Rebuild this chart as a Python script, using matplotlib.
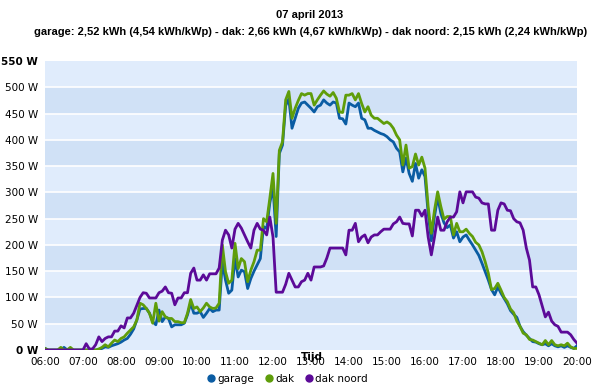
import matplotlib
matplotlib.use("Agg")
import matplotlib.pyplot as plt
from matplotlib.lines import Line2D

# 5-minute readings from 06:00 to 20:00 (one row per hour)
garage = [
    3, 0, 0, 0, 0, 0, 5, 0, 0, 0, 0, 0,
    0, 0, 0, 0, 0, 0, 3, 6, 5, 8, 10, 12,
    15, 19, 22, 30, 40, 57, 78, 79, 79, 70, 54, 48,
    76, 54, 63, 60, 44, 48, 48, 48, 51, 67, 89, 70,
    70, 73, 62, 70, 79, 73, 76, 76, 168, 133, 108, 114,
    174, 139, 152, 149, 117, 136, 150, 162, 174, 235, 231, 280,
    311, 216, 374, 390, 465, 478, 422, 441, 460, 470, 472, 466,
    460, 453, 463, 466, 476, 470, 466, 472, 470, 441, 440, 430,
    470, 466, 463, 470, 441, 438, 422, 422, 418, 415, 412, 410,
    406, 400, 396, 384, 377, 339, 365, 336, 321, 355, 327, 343,
    330, 260, 208, 254, 291, 260, 242, 233, 238, 213, 225, 206,
    215, 219, 209, 200, 190, 180, 165, 149, 133, 115, 105, 120,
    108, 98, 88, 75, 68, 62, 45, 35, 28, 22, 16, 15,
    12, 10, 12, 8, 12, 8, 6, 8, 5, 8, 5, 3,
    8,
]
dak = [
    3, 0, 0, 0, 0, 5, 0, 0, 5, 0, 0, 0,
    0, 0, 0, 0, 0, 2, 5, 10, 6, 13, 19, 16,
    22, 25, 32, 38, 44, 57, 89, 86, 79, 70, 51, 89,
    55, 73, 63, 60, 60, 54, 54, 52, 52, 70, 96, 79,
    82, 73, 80, 89, 82, 79, 80, 89, 200, 149, 127, 133,
    203, 155, 174, 168, 130, 152, 168, 190, 190, 250, 244, 289,
    336, 241, 380, 396, 476, 492, 441, 460, 475, 488, 485, 488,
    488, 466, 476, 485, 493, 487, 483, 490, 479, 453, 452, 485,
    485, 488, 476, 488, 469, 453, 463, 447, 441, 441, 436, 431,
    434, 430, 422, 409, 400, 352, 390, 346, 349, 373, 352, 367,
    346, 273, 222, 266, 301, 273, 249, 254, 254, 219, 241, 225,
    225, 230, 222, 216, 205, 200, 187, 168, 146, 115, 117, 127,
    114, 100, 92, 78, 71, 55, 45, 32, 29, 20, 19, 16,
    13, 10, 18, 10, 18, 10, 8, 10, 8, 13, 6, 3,
    3,
]
dak_noord = [
    0, 0, 0, 0, 0, 0, 0, 0, 0, 0, 0, 0,
    0, 12, 2, 2, 10, 25, 16, 22, 25, 25, 36, 36,
    46, 42, 61, 61, 70, 85, 100, 109, 108, 99, 99, 99,
    109, 112, 120, 109, 108, 86, 99, 99, 109, 109, 146, 156,
    133, 133, 143, 133, 145, 145, 145, 156, 209, 228, 219, 194,
    230, 241, 232, 219, 206, 194, 228, 241, 230, 228, 219, 253,
    215, 110, 110, 110, 125, 146, 133, 120, 120, 130, 133, 146,
    133, 158, 158, 158, 160, 175, 194, 194, 194, 194, 194, 181,
    228, 228, 241, 206, 215, 219, 204, 215, 219, 219, 225, 230,
    230, 230, 240, 244, 253, 241, 240, 240, 217, 266, 266, 255,
    266, 215, 181, 215, 253, 228, 228, 244, 253, 253, 263, 301,
    280, 301, 301, 301, 291, 289, 280, 278, 278, 228, 228, 266,
    280, 278, 266, 265, 250, 244, 242, 228, 194, 171, 120, 120,
    105, 84, 63, 72, 55, 48, 45, 34, 34, 34, 29, 20,
    13,
]
hours = [6 + i / 12 for i in range(len(garage))]
tick_hours = list(range(6, 21))
tick_labels = ["%02d:00" % h for h in tick_hours]
y_ticks = list(range(0, 551, 50))

title = "07 april 2013"
subtitle = ("garage: 2,52 kWh (4,54 kWh/kWp) - dak: 2,66 kWh (4,67 kWh/kWp) - "
            "dak noord: 2,15 kWh (2,24 kWh/kWp)")
series_names = ["garage", "dak", "dak noord"]

c_garage = "#0a5ca3"
c_dak = "#5f9d0a"
c_noord = "#5c0a98"

fig = plt.figure(figsize=(6.03, 3.87), dpi=100)
ax = fig.add_axes([45 / 603, 1 - 350 / 387, 532 / 603, 289 / 387])

# alternating background bands
ax.set_facecolor("#e0ecfc")
for lo in range(50, 550, 100):
    ax.axhspan(lo, lo + 50, color="#d0e1f6", lw=0, zorder=0)
for y in y_ticks[1:-1]:
    ax.axhline(y, color="white", lw=1.2, zorder=1)

ax.plot(hours, garage, color=c_garage, lw=2, zorder=3)
ax.plot(hours, dak, color=c_dak, lw=2, zorder=4)
ax.plot(hours, dak_noord, color=c_noord, lw=2, zorder=5)

ax.set_xlim(6, 20)
ax.set_ylim(0, 550)
for s in ax.spines.values():
    s.set_visible(False)
ax.set_xticks(tick_hours)
ax.set_xticklabels(tick_labels)
ax.set_yticks(y_ticks)
ax.set_yticklabels(["%d W" % v for v in y_ticks])
ax.tick_params(length=0, labelsize=7.5, pad=5)
for lab in ax.get_yticklabels():
    if lab.get_text() in ("0 W", "550 W"):
        lab.set_fontweight("bold")

fig.text(310 / 603, 1 - 15 / 387, title, ha="center", va="center",
         family="Liberation Sans", weight="bold", fontsize=8)
fig.text(311 / 603, 1 - 32 / 387, subtitle, ha="center", va="center",
         family="Liberation Sans", weight="bold", fontsize=8)
fig.text(312 / 603, 1 - 357 / 387, "Tijd", ha="center", va="center",
         weight="bold", fontsize=7.5)

handles = [Line2D([], [], ls="none", marker="o", ms=5, color=c)
           for c in (c_garage, c_dak, c_noord)]
fig.legend(handles, series_names, loc="center", bbox_to_anchor=(287 / 603, 1 - 379 / 387),
           ncol=3, frameon=False, fontsize=7.5, handletextpad=0.1,
           columnspacing=0.9, borderpad=0, handlelength=1)

plt.savefig("out.png", dpi=100)
